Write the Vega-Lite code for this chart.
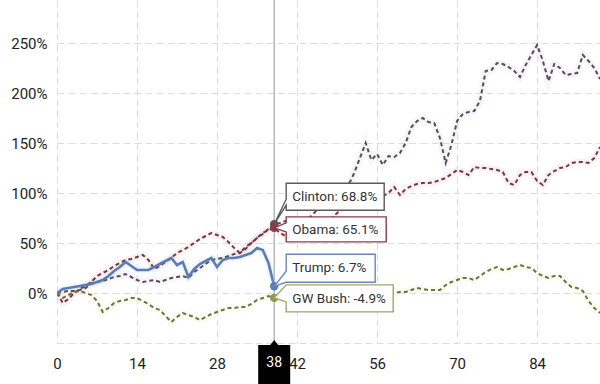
{
  "$schema": "https://vega.github.io/schema/vega-lite/v6.json",
  "width": 543,
  "height": 343,
  "autosize": {"type": "none"},
  "padding": {"left": 57, "right": 0, "top": 0, "bottom": 41},
  "background": "white",
  "config": {"view": {"stroke": null}, "font": "Roboto"},
  "resolve": {"scale": {"color": "independent"}},
  "datasets": {
    "series": [
      {"s":"Clinton","m":0,"v":0},{"s":"Clinton","m":1,"v":1},{"s":"Clinton","m":2,"v":2},{"s":"Clinton","m":3,"v":2},{"s":"Clinton","m":4,"v":3},{"s":"Clinton","m":5,"v":5},{"s":"Clinton","m":6,"v":10},{"s":"Clinton","m":7,"v":11},{"s":"Clinton","m":8,"v":12},{"s":"Clinton","m":9,"v":14},
      {"s":"Clinton","m":10,"v":16},{"s":"Clinton","m":11,"v":17},{"s":"Clinton","m":12,"v":19},{"s":"Clinton","m":13,"v":16},{"s":"Clinton","m":14,"v":13},{"s":"Clinton","m":15,"v":11},{"s":"Clinton","m":16,"v":12},{"s":"Clinton","m":17,"v":13},{"s":"Clinton","m":18,"v":11},{"s":"Clinton","m":19,"v":13},
      {"s":"Clinton","m":20,"v":15},{"s":"Clinton","m":21,"v":16},{"s":"Clinton","m":22,"v":17},{"s":"Clinton","m":23,"v":15},{"s":"Clinton","m":24,"v":21},{"s":"Clinton","m":25,"v":25},{"s":"Clinton","m":26,"v":29},{"s":"Clinton","m":27,"v":33},{"s":"Clinton","m":28,"v":34},{"s":"Clinton","m":29,"v":35},
      {"s":"Clinton","m":30,"v":37},{"s":"Clinton","m":31,"v":39},{"s":"Clinton","m":32,"v":40},{"s":"Clinton","m":33,"v":44},{"s":"Clinton","m":34,"v":50},{"s":"Clinton","m":35,"v":55},{"s":"Clinton","m":36,"v":59},{"s":"Clinton","m":37,"v":64},{"s":"Clinton","m":38,"v":68.8},{"s":"Clinton","m":39,"v":70},
      {"s":"Clinton","m":40,"v":72},{"s":"Clinton","m":41,"v":74},{"s":"Clinton","m":42,"v":71},{"s":"Clinton","m":43,"v":70},{"s":"Clinton","m":44,"v":74},{"s":"Clinton","m":45,"v":80},{"s":"Clinton","m":46,"v":87},{"s":"Clinton","m":47,"v":95},{"s":"Clinton","m":48,"v":100},{"s":"Clinton","m":49,"v":104},
      {"s":"Clinton","m":50,"v":104},{"s":"Clinton","m":51,"v":108},{"s":"Clinton","m":52,"v":120},{"s":"Clinton","m":53,"v":135},{"s":"Clinton","m":54,"v":150},{"s":"Clinton","m":55,"v":133},{"s":"Clinton","m":56,"v":139},{"s":"Clinton","m":57,"v":128},{"s":"Clinton","m":58,"v":137},{"s":"Clinton","m":59,"v":136},
      {"s":"Clinton","m":60,"v":140},{"s":"Clinton","m":61,"v":150},{"s":"Clinton","m":62,"v":166},{"s":"Clinton","m":63,"v":172},{"s":"Clinton","m":64,"v":175},{"s":"Clinton","m":65,"v":171},{"s":"Clinton","m":66,"v":170},{"s":"Clinton","m":67,"v":155},{"s":"Clinton","m":68,"v":130},{"s":"Clinton","m":69,"v":148},
      {"s":"Clinton","m":70,"v":172},{"s":"Clinton","m":71,"v":179},{"s":"Clinton","m":72,"v":181},{"s":"Clinton","m":73,"v":182},{"s":"Clinton","m":74,"v":192},{"s":"Clinton","m":75,"v":222},{"s":"Clinton","m":76,"v":223},{"s":"Clinton","m":77,"v":230},{"s":"Clinton","m":78,"v":229},{"s":"Clinton","m":79,"v":226},
      {"s":"Clinton","m":80,"v":222},{"s":"Clinton","m":81,"v":216},{"s":"Clinton","m":82,"v":228},{"s":"Clinton","m":83,"v":238},{"s":"Clinton","m":84,"v":248},{"s":"Clinton","m":85,"v":232},{"s":"Clinton","m":86,"v":212},{"s":"Clinton","m":87,"v":229},{"s":"Clinton","m":88,"v":225},{"s":"Clinton","m":89,"v":218},
      {"s":"Clinton","m":90,"v":219},{"s":"Clinton","m":91,"v":220},{"s":"Clinton","m":92,"v":238},{"s":"Clinton","m":93,"v":232},{"s":"Clinton","m":94,"v":225},{"s":"Clinton","m":95,"v":214},

      {"s":"Obama","m":0,"v":0},{"s":"Obama","m":1,"v":-10},{"s":"Obama","m":2,"v":-6},{"s":"Obama","m":3,"v":0},{"s":"Obama","m":4,"v":4},{"s":"Obama","m":5,"v":7},{"s":"Obama","m":6,"v":11},{"s":"Obama","m":7,"v":17},{"s":"Obama","m":8,"v":20},{"s":"Obama","m":9,"v":23},
      {"s":"Obama","m":10,"v":27},{"s":"Obama","m":11,"v":30},{"s":"Obama","m":12,"v":33},{"s":"Obama","m":13,"v":34},{"s":"Obama","m":14,"v":36},{"s":"Obama","m":15,"v":38},{"s":"Obama","m":16,"v":33},{"s":"Obama","m":17,"v":24},{"s":"Obama","m":18,"v":27},{"s":"Obama","m":19,"v":31},
      {"s":"Obama","m":20,"v":35},{"s":"Obama","m":21,"v":40},{"s":"Obama","m":22,"v":43},{"s":"Obama","m":23,"v":46},{"s":"Obama","m":24,"v":50},{"s":"Obama","m":25,"v":54},{"s":"Obama","m":26,"v":57},{"s":"Obama","m":27,"v":60},{"s":"Obama","m":28,"v":58},{"s":"Obama","m":29,"v":56},
      {"s":"Obama","m":30,"v":51},{"s":"Obama","m":31,"v":45},{"s":"Obama","m":32,"v":40},{"s":"Obama","m":33,"v":46},{"s":"Obama","m":34,"v":50},{"s":"Obama","m":35,"v":55},{"s":"Obama","m":36,"v":60},{"s":"Obama","m":37,"v":63},{"s":"Obama","m":38,"v":65.1},{"s":"Obama","m":39,"v":60},
      {"s":"Obama","m":40,"v":57},{"s":"Obama","m":41,"v":62},{"s":"Obama","m":42,"v":63},{"s":"Obama","m":43,"v":68},{"s":"Obama","m":44,"v":70},{"s":"Obama","m":45,"v":66},{"s":"Obama","m":46,"v":61},{"s":"Obama","m":47,"v":66},{"s":"Obama","m":48,"v":74},{"s":"Obama","m":49,"v":80},
      {"s":"Obama","m":50,"v":84},{"s":"Obama","m":51,"v":88},{"s":"Obama","m":52,"v":92},{"s":"Obama","m":53,"v":90},{"s":"Obama","m":54,"v":95},{"s":"Obama","m":55,"v":92},{"s":"Obama","m":56,"v":95},{"s":"Obama","m":57,"v":97},{"s":"Obama","m":58,"v":100},{"s":"Obama","m":59,"v":106},
      {"s":"Obama","m":60,"v":98},{"s":"Obama","m":61,"v":104},{"s":"Obama","m":62,"v":107},{"s":"Obama","m":63,"v":109},{"s":"Obama","m":64,"v":110},{"s":"Obama","m":65,"v":110},{"s":"Obama","m":66,"v":111},{"s":"Obama","m":67,"v":113},{"s":"Obama","m":68,"v":115},{"s":"Obama","m":69,"v":119},
      {"s":"Obama","m":70,"v":123},{"s":"Obama","m":71,"v":121},{"s":"Obama","m":72,"v":118},{"s":"Obama","m":73,"v":126},{"s":"Obama","m":74,"v":125},{"s":"Obama","m":75,"v":125},{"s":"Obama","m":76,"v":124},{"s":"Obama","m":77,"v":123},{"s":"Obama","m":78,"v":121},{"s":"Obama","m":79,"v":110},
      {"s":"Obama","m":80,"v":108},{"s":"Obama","m":81,"v":118},{"s":"Obama","m":82,"v":121},{"s":"Obama","m":83,"v":121},{"s":"Obama","m":84,"v":112},{"s":"Obama","m":85,"v":108},{"s":"Obama","m":86,"v":118},{"s":"Obama","m":87,"v":122},{"s":"Obama","m":88,"v":125},{"s":"Obama","m":89,"v":126},
      {"s":"Obama","m":90,"v":130},{"s":"Obama","m":91,"v":131},{"s":"Obama","m":92,"v":131},{"s":"Obama","m":93,"v":130},{"s":"Obama","m":94,"v":135},{"s":"Obama","m":95,"v":146},

      {"s":"GW Bush","m":0,"v":0},{"s":"GW Bush","m":1,"v":-5},{"s":"GW Bush","m":2,"v":-2},{"s":"GW Bush","m":3,"v":1},{"s":"GW Bush","m":4,"v":2},{"s":"GW Bush","m":5,"v":0},{"s":"GW Bush","m":6,"v":-2},{"s":"GW Bush","m":7,"v":-8},{"s":"GW Bush","m":8,"v":-19},{"s":"GW Bush","m":9,"v":-15},
      {"s":"GW Bush","m":10,"v":-10},{"s":"GW Bush","m":11,"v":-8},{"s":"GW Bush","m":12,"v":-7},{"s":"GW Bush","m":13,"v":-5},{"s":"GW Bush","m":14,"v":-5},{"s":"GW Bush","m":15,"v":-8},{"s":"GW Bush","m":16,"v":-11},{"s":"GW Bush","m":17,"v":-15},{"s":"GW Bush","m":18,"v":-17},{"s":"GW Bush","m":19,"v":-23},
      {"s":"GW Bush","m":20,"v":-29},{"s":"GW Bush","m":21,"v":-24},{"s":"GW Bush","m":22,"v":-20},{"s":"GW Bush","m":23,"v":-22},{"s":"GW Bush","m":24,"v":-24},{"s":"GW Bush","m":25,"v":-27},{"s":"GW Bush","m":26,"v":-24},{"s":"GW Bush","m":27,"v":-21},{"s":"GW Bush","m":28,"v":-19},{"s":"GW Bush","m":29,"v":-17},
      {"s":"GW Bush","m":30,"v":-15},{"s":"GW Bush","m":31,"v":-15},{"s":"GW Bush","m":32,"v":-14},{"s":"GW Bush","m":33,"v":-14},{"s":"GW Bush","m":34,"v":-11},{"s":"GW Bush","m":35,"v":-7},{"s":"GW Bush","m":36,"v":-5},{"s":"GW Bush","m":37,"v":-3},{"s":"GW Bush","m":38,"v":-4.9},{"s":"GW Bush","m":39,"v":-6},
      {"s":"GW Bush","m":40,"v":-4},{"s":"GW Bush","m":41,"v":-6},{"s":"GW Bush","m":42,"v":-9},{"s":"GW Bush","m":43,"v":-6},{"s":"GW Bush","m":44,"v":-1},{"s":"GW Bush","m":45,"v":0},{"s":"GW Bush","m":46,"v":-2},{"s":"GW Bush","m":47,"v":-3},{"s":"GW Bush","m":48,"v":-5},{"s":"GW Bush","m":49,"v":-2},
      {"s":"GW Bush","m":50,"v":-6},{"s":"GW Bush","m":51,"v":-4},{"s":"GW Bush","m":52,"v":-1},{"s":"GW Bush","m":53,"v":-3},{"s":"GW Bush","m":54,"v":0},{"s":"GW Bush","m":55,"v":1},{"s":"GW Bush","m":56,"v":0},{"s":"GW Bush","m":57,"v":1},{"s":"GW Bush","m":58,"v":0},{"s":"GW Bush","m":59,"v":0},
      {"s":"GW Bush","m":60,"v":1},{"s":"GW Bush","m":61,"v":1},{"s":"GW Bush","m":62,"v":3},{"s":"GW Bush","m":63,"v":5},{"s":"GW Bush","m":64,"v":4},{"s":"GW Bush","m":65,"v":3},{"s":"GW Bush","m":66,"v":3},{"s":"GW Bush","m":67,"v":3},{"s":"GW Bush","m":68,"v":8},{"s":"GW Bush","m":69,"v":11},
      {"s":"GW Bush","m":70,"v":13},{"s":"GW Bush","m":71,"v":15},{"s":"GW Bush","m":72,"v":15},{"s":"GW Bush","m":73,"v":13},{"s":"GW Bush","m":74,"v":17},{"s":"GW Bush","m":75,"v":21},{"s":"GW Bush","m":76,"v":24},{"s":"GW Bush","m":77,"v":26},{"s":"GW Bush","m":78,"v":23},{"s":"GW Bush","m":79,"v":24},
      {"s":"GW Bush","m":80,"v":26},{"s":"GW Bush","m":81,"v":28},{"s":"GW Bush","m":82,"v":26},{"s":"GW Bush","m":83,"v":25},{"s":"GW Bush","m":84,"v":20},{"s":"GW Bush","m":85,"v":17},{"s":"GW Bush","m":86,"v":15},{"s":"GW Bush","m":87,"v":17},{"s":"GW Bush","m":88,"v":17},{"s":"GW Bush","m":89,"v":11},
      {"s":"GW Bush","m":90,"v":6},{"s":"GW Bush","m":91,"v":5},{"s":"GW Bush","m":92,"v":2},{"s":"GW Bush","m":93,"v":-8},{"s":"GW Bush","m":94,"v":-15},{"s":"GW Bush","m":95,"v":-20},

      {"s":"Trump","m":0,"v":0},{"s":"Trump","m":1,"v":4},{"s":"Trump","m":2,"v":5},{"s":"Trump","m":3,"v":6},{"s":"Trump","m":4,"v":7},{"s":"Trump","m":5,"v":8},{"s":"Trump","m":6,"v":9},{"s":"Trump","m":7,"v":11},{"s":"Trump","m":8,"v":13},{"s":"Trump","m":9,"v":17},
      {"s":"Trump","m":10,"v":22},{"s":"Trump","m":11,"v":26},{"s":"Trump","m":12,"v":31},{"s":"Trump","m":13,"v":27},{"s":"Trump","m":14,"v":23},{"s":"Trump","m":15,"v":23},{"s":"Trump","m":16,"v":23},{"s":"Trump","m":17,"v":26},{"s":"Trump","m":18,"v":29},{"s":"Trump","m":19,"v":32},
      {"s":"Trump","m":20,"v":35},{"s":"Trump","m":21,"v":28},{"s":"Trump","m":22,"v":31},{"s":"Trump","m":23,"v":16},{"s":"Trump","m":24,"v":24},{"s":"Trump","m":25,"v":29},{"s":"Trump","m":26,"v":32},{"s":"Trump","m":27,"v":35},{"s":"Trump","m":28,"v":26},{"s":"Trump","m":29,"v":33},
      {"s":"Trump","m":30,"v":35},{"s":"Trump","m":31,"v":35},{"s":"Trump","m":32,"v":36},{"s":"Trump","m":33,"v":38},{"s":"Trump","m":34,"v":40},{"s":"Trump","m":35,"v":45},{"s":"Trump","m":36,"v":43},{"s":"Trump","m":37,"v":30},{"s":"Trump","m":38,"v":6.7}
    ],
    "cursor": [{"m": 38}],
    "annot": [
      {"s": "Clinton", "m": 38, "v": 68.8, "label": "Clinton: 68.8%"},
      {"s": "Obama", "m": 38, "v": 65.1, "label": "Obama: 65.1%"},
      {"s": "Trump", "m": 38, "v": 6.7, "label": "Trump: 6.7%"},
      {"s": "GW Bush", "m": 38, "v": -4.9, "label": "GW Bush: -4.9%"}
    ]
  },
  "layer": [
    {
      "data": {"name": "series"},
      "mark": {"type": "line", "strokeWidth": 7, "opacity": 0.3, "clip": true},
      "encoding": {
        "x": {"field": "m", "type": "quantitative", "scale": {"domain": [0, 95], "nice": false, "zero": false},
          "axis": {"values": [0, 14, 28, 42, 56, 70, 84], "title": null, "grid": true, "gridDash": [7, 4], "gridColor": "#dcdcdc", "gridWidth": 1, "domain": false, "ticks": false, "labelFontSize": 15, "labelColor": "#222", "labelPadding": 13, "labelFlush": false, "labelFont": "Roboto"}},
        "y": {"field": "v", "type": "quantitative", "scale": {"domain": [-50, 293], "nice": false, "zero": false},
          "axis": {"values": [-50, 0, 50, 100, 150, 200, 250], "title": null, "grid": true, "gridDash": [7, 4], "gridColor": "#dcdcdc", "gridWidth": 1, "domain": false, "ticks": false, "labelFontSize": 15, "labelColor": "#222", "labelPadding": 10, "labelFont": "Roboto", "labelExpr": "datum.value < 0 ? '' : datum.value + '%'"}},
        "color": {"field": "s", "type": "nominal", "legend": null,
          "scale": {"domain": ["Clinton", "Obama", "GW Bush", "Trump"], "range": ["#e4dde4", "#f2d4d8", "#f2f2cc", "#d4e2f4"]}},
        "detail": {"field": "s"}
      }
    },
    {
      "data": {"name": "series"},
      "transform": [{"filter": "datum.s !== 'Trump'"}],
      "mark": {"type": "line", "strokeWidth": 2, "strokeDash": [4, 3], "clip": true},
      "encoding": {
        "x": {"field": "m", "type": "quantitative"},
        "y": {"field": "v", "type": "quantitative"},
        "color": {"field": "s", "type": "nominal", "legend": null,
          "scale": {"domain": ["Clinton", "Obama", "GW Bush"], "range": ["#574c58", "#763846", "#6f6f4c"]}}
      }
    },
    {
      "data": {"name": "series"},
      "transform": [{"filter": "datum.s === 'Trump'"}],
      "mark": {"type": "line", "strokeWidth": 2.6, "color": "#5b7db6", "clip": true},
      "encoding": {
        "x": {"field": "m", "type": "quantitative"},
        "y": {"field": "v", "type": "quantitative"}
      }
    },
    {
      "data": {"name": "cursor"},
      "mark": {"type": "rule", "color": "#a8a8a8", "strokeWidth": 1.2},
      "encoding": {"x": {"field": "m", "type": "quantitative"}}
    },
    {
      "data": {"name": "annot"},
      "mark": {"type": "point", "shape": "circle", "filled": true, "size": 70, "opacity": 1},
      "encoding": {
        "x": {"field": "m", "type": "quantitative"},
        "y": {"field": "v", "type": "quantitative"},
        "color": {"field": "s", "type": "nominal", "legend": null,
          "scale": {"domain": ["Clinton", "Obama", "GW Bush", "Trump"], "range": ["#6a4a58", "#8b3a4a", "#8f9a4a", "#5b7db6"]}}
      }
    },
    {
      "data": {"name": "annot"},
      "transform": [{"filter": "datum.s === 'Clinton'"}],
      "mark": {"type": "point", "shape": "M12,-41L110,-41L110,-14L12,-14L12,-19L0,0L12,-25Z", "size": 4, "fill": "white", "stroke": "#5a5a5a", "strokeWidth": 1.4, "opacity": 1, "fillOpacity": 1, "strokeOpacity": 1},
      "encoding": {"x": {"field": "m", "type": "quantitative"}, "y": {"field": "v", "type": "quantitative"}}
    },
    {
      "data": {"name": "annot"},
      "transform": [{"filter": "datum.s === 'Obama'"}],
      "mark": {"type": "point", "shape": "M12,-11L112,-11L112,14L12,14L12,4L0,0L12,-5Z", "size": 4, "fill": "white", "stroke": "#8b3a4a", "strokeWidth": 1.4, "opacity": 1, "fillOpacity": 1, "strokeOpacity": 1},
      "encoding": {"x": {"field": "m", "type": "quantitative"}, "y": {"field": "v", "type": "quantitative"}}
    },
    {
      "data": {"name": "annot"},
      "transform": [{"filter": "datum.s === 'Trump'"}],
      "mark": {"type": "point", "shape": "M12,-32L101,-32L101,-4L12,-4L0,0L12,-15Z", "size": 4, "fill": "white", "stroke": "#6a86b8", "strokeWidth": 1.4, "opacity": 1, "fillOpacity": 1, "strokeOpacity": 1},
      "encoding": {"x": {"field": "m", "type": "quantitative"}, "y": {"field": "v", "type": "quantitative"}}
    },
    {
      "data": {"name": "annot"},
      "transform": [{"filter": "datum.s === 'GW Bush'"}],
      "mark": {"type": "point", "shape": "M12,-13L119,-13L119,14L12,14L12,4L0,0Z", "size": 4, "fill": "white", "stroke": "#a3a36a", "strokeWidth": 1.4, "opacity": 1, "fillOpacity": 1, "strokeOpacity": 1},
      "encoding": {"x": {"field": "m", "type": "quantitative"}, "y": {"field": "v", "type": "quantitative"}}
    },
    {
      "data": {"name": "annot"},
      "transform": [{"filter": "datum.s === 'Clinton'"}],
      "mark": {"type": "text", "align": "left", "baseline": "middle", "dx": 18, "dy": -27, "fontSize": 13.5, "font": "Roboto", "color": "#333"},
      "encoding": {"x": {"field": "m", "type": "quantitative"}, "y": {"field": "v", "type": "quantitative"}, "text": {"field": "label"}}
    },
    {
      "data": {"name": "annot"},
      "transform": [{"filter": "datum.s === 'Obama'"}],
      "mark": {"type": "text", "align": "left", "baseline": "middle", "dx": 18, "dy": 2, "fontSize": 13.5, "font": "Roboto", "color": "#333"},
      "encoding": {"x": {"field": "m", "type": "quantitative"}, "y": {"field": "v", "type": "quantitative"}, "text": {"field": "label"}}
    },
    {
      "data": {"name": "annot"},
      "transform": [{"filter": "datum.s === 'Trump'"}],
      "mark": {"type": "text", "align": "left", "baseline": "middle", "dx": 18, "dy": -18, "fontSize": 13.5, "font": "Roboto", "color": "#333"},
      "encoding": {"x": {"field": "m", "type": "quantitative"}, "y": {"field": "v", "type": "quantitative"}, "text": {"field": "label"}}
    },
    {
      "data": {"name": "annot"},
      "transform": [{"filter": "datum.s === 'GW Bush'"}],
      "mark": {"type": "text", "align": "left", "baseline": "middle", "dx": 18, "dy": 1, "fontSize": 13.5, "font": "Roboto", "color": "#333"},
      "encoding": {"x": {"field": "m", "type": "quantitative"}, "y": {"field": "v", "type": "quantitative"}, "text": {"field": "label"}}
    },
    {
      "data": {"name": "cursor"},
      "mark": {"type": "point", "shape": "M-16,2L-4,2L0,-3L4,2L16,2L16,45L-16,45Z", "size": 4, "fill": "black", "stroke": null, "opacity": 1, "fillOpacity": 1},
      "encoding": {"x": {"field": "m", "type": "quantitative"}, "y": {"datum": -50, "type": "quantitative"}}
    },
    {
      "data": {"name": "cursor"},
      "mark": {"type": "text", "align": "center", "baseline": "middle", "dy": 20, "fontSize": 14, "font": "Roboto", "color": "white"},
      "encoding": {"x": {"field": "m", "type": "quantitative"}, "y": {"datum": -50, "type": "quantitative"}, "text": {"field": "m"}}
    }
  ]
}
